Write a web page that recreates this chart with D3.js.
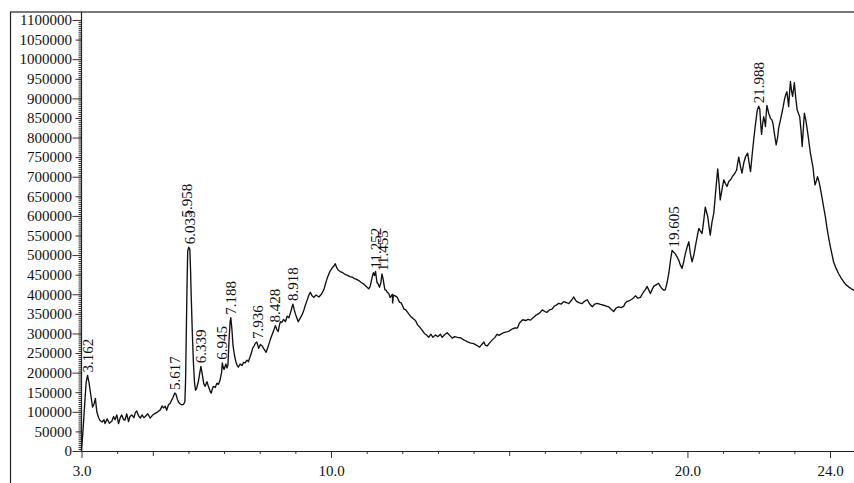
<!DOCTYPE html>
<html>
<head>
<meta charset="UTF-8">
<title>chromatogram</title>
<script src="https://d3js.org/d3.v7.min.js"></script>
<style>
  body { margin: 0; background: #fff; }
  text { font-family: "Liberation Serif", "Times New Roman", serif; fill: #111; }
</style>
</head>
<body>
<svg id="chart" width="854" height="483"></svg>
<script>
// retention time (min)
var rt = [
  3.00, 3.04, 3.09, 3.13, 3.17, 3.21, 3.25, 3.31, 3.35, 3.39, 3.43, 3.48, 3.52, 3.58, 3.63, 3.66, 3.72, 3.78, 3.85, 3.90,
  3.94, 3.99, 4.04, 4.09, 4.13, 4.18, 4.22, 4.27, 4.32, 4.36, 4.41, 4.47, 4.51, 4.55, 4.60, 4.65, 4.70, 4.75, 4.79, 4.86,
  4.93, 5.00, 5.07, 5.14, 5.21, 5.26, 5.30, 5.35, 5.39, 5.44, 5.49, 5.53, 5.56, 5.62, 5.65, 5.69, 5.72, 5.77, 5.81, 5.86,
  5.90, 5.92, 5.94, 5.96, 5.98, 6.01, 6.04, 6.06, 6.08, 6.11, 6.14, 6.17, 6.20, 6.23, 6.28, 6.32, 6.35, 6.38, 6.43, 6.47,
  6.52, 6.55, 6.58, 6.62, 6.64, 6.67, 6.70, 6.75, 6.80, 6.84, 6.89, 6.93, 6.95, 6.98, 7.00, 7.05, 7.08, 7.11, 7.14, 7.17,
  7.19, 7.22, 7.25, 7.29, 7.33, 7.37, 7.40, 7.45, 7.50, 7.55, 7.59, 7.64, 7.68, 7.72, 7.76, 7.80, 7.84, 7.88, 7.92, 7.97,
  8.02, 8.07, 8.12, 8.18, 8.23, 8.30, 8.36, 8.41, 8.44, 8.48, 8.52, 8.55, 8.58, 8.62, 8.67, 8.72, 8.77, 8.82, 8.86, 8.90,
  8.93, 8.97, 9.00, 9.04, 9.08, 9.13, 9.19, 9.24, 9.28, 9.33, 9.38, 9.42, 9.47, 9.52, 9.58, 9.66, 9.73, 9.80, 9.85, 9.89,
  9.94, 9.98, 10.03, 10.08, 10.12, 10.16, 10.20, 10.26, 10.33, 10.41, 10.47, 10.53, 10.59, 10.66, 10.72, 10.78, 10.85, 10.92, 10.99, 11.06,
  11.10, 11.15, 11.19, 11.22, 11.25, 11.29, 11.33, 11.36, 11.40, 11.43, 11.46, 11.51, 11.55, 11.58, 11.62, 11.66, 11.72, 11.73, 11.75, 11.80,
  11.86, 11.92, 11.97, 12.00, 12.05, 12.10, 12.18, 12.24, 12.30, 12.37, 12.43, 12.50, 12.56, 12.62, 12.68, 12.74, 12.80, 12.86, 12.93, 13.00,
  13.07, 13.12, 13.18, 13.26, 13.33, 13.40, 13.47, 13.55, 13.63, 13.70, 13.76, 13.82, 13.90, 14.00, 14.08, 14.17, 14.23, 14.29, 14.33, 14.38,
  14.45, 14.52, 14.60, 14.66, 14.71, 14.78, 14.85, 14.93, 15.00, 15.04, 15.10, 15.17, 15.23, 15.28, 15.32, 15.38, 15.46, 15.53, 15.60, 15.67,
  15.74, 15.78, 15.85, 15.93, 16.00, 16.06, 16.13, 16.20, 16.27, 16.33, 16.39, 16.46, 16.53, 16.60, 16.67, 16.74, 16.81, 16.86, 16.90, 16.97,
  17.04, 17.11, 17.19, 17.26, 17.33, 17.40, 17.47, 17.56, 17.65, 17.72, 17.79, 17.86, 17.93, 18.00, 18.07, 18.14, 18.21, 18.26, 18.31, 18.38,
  18.45, 18.50, 18.54, 18.61, 18.68, 18.73, 18.77, 18.82, 18.87, 18.92, 18.96, 19.00, 19.05, 19.12, 19.19, 19.24, 19.29, 19.34, 19.38, 19.43,
  19.48, 19.53, 19.57, 19.61, 19.66, 19.71, 19.76, 19.80, 19.85, 19.90, 19.94, 19.99, 20.04, 20.08, 20.13, 20.18, 20.22, 20.27, 20.32, 20.36,
  20.41, 20.46, 20.50, 20.54, 20.57, 20.61, 20.64, 20.69, 20.74, 20.79, 20.85, 20.89, 20.92, 20.97, 21.02, 21.07, 21.11, 21.16, 21.21, 21.26,
  21.30, 21.35, 21.38, 21.41, 21.44, 21.49, 21.53, 21.58, 21.63, 21.69, 21.73, 21.77, 21.82, 21.86, 21.91, 21.96, 22.00, 22.03, 22.06, 22.08,
  22.11, 22.14, 22.17, 22.19, 22.21, 22.23, 22.28, 22.33, 22.37, 22.40, 22.44, 22.49, 22.53, 22.56, 22.61, 22.65, 22.69, 22.72, 22.76, 22.79,
  22.82, 22.84, 22.87, 22.89, 22.92, 22.95, 22.98, 23.00, 23.04, 23.08, 23.12, 23.15, 23.19, 23.22, 23.25, 23.28, 23.32, 23.35, 23.40, 23.45,
  23.49, 23.52, 23.55, 23.58, 23.62, 23.65, 23.69, 23.72, 23.77, 23.82, 23.87, 23.91, 23.96, 24.01, 24.06, 24.10, 24.17, 24.24, 24.31, 24.38,
  24.45, 24.52, 24.60, 24.68
];

// detector signal
var intensity = [
  0, 50000, 120000, 175000, 193000, 175000, 150000, 112000, 120000, 134000, 100000, 85000, 78000, 74000, 80000, 70000, 82000, 71000, 76000, 88000,
  80000, 92000, 70000, 86000, 92000, 80000, 79000, 95000, 75000, 88000, 92000, 85000, 98000, 102000, 90000, 84000, 92000, 85000, 88000, 95000,
  84000, 92000, 96000, 100000, 105000, 115000, 110000, 114000, 104000, 118000, 122000, 130000, 135000, 148000, 145000, 132000, 125000, 120000, 118000, 119000,
  125000, 180000, 300000, 420000, 510000, 520000, 515000, 460000, 390000, 300000, 225000, 175000, 155000, 160000, 178000, 200000, 216000, 200000, 172000, 165000,
  177000, 168000, 160000, 150000, 148000, 158000, 165000, 162000, 173000, 170000, 182000, 200000, 225000, 212000, 208000, 222000, 212000, 220000, 285000, 330000,
  340000, 310000, 270000, 245000, 228000, 218000, 214000, 222000, 218000, 226000, 225000, 232000, 228000, 238000, 248000, 262000, 268000, 275000, 278000, 262000,
  272000, 268000, 260000, 252000, 265000, 285000, 300000, 312000, 320000, 310000, 305000, 320000, 330000, 328000, 336000, 330000, 344000, 340000, 352000, 365000,
  375000, 360000, 350000, 340000, 330000, 338000, 348000, 360000, 372000, 385000, 398000, 405000, 396000, 392000, 398000, 393000, 400000, 412000, 428000, 440000,
  452000, 460000, 467000, 472000, 478000, 468000, 462000, 458000, 455000, 450000, 448000, 445000, 444000, 440000, 438000, 435000, 430000, 426000, 420000, 414000,
  420000, 442000, 455000, 448000, 458000, 430000, 425000, 418000, 430000, 452000, 440000, 412000, 410000, 405000, 402000, 392000, 400000, 378000, 398000, 396000,
  392000, 380000, 378000, 372000, 362000, 360000, 350000, 343000, 338000, 333000, 322000, 315000, 308000, 300000, 296000, 290000, 298000, 290000, 296000, 292000,
  298000, 290000, 296000, 302000, 295000, 288000, 292000, 290000, 289000, 285000, 282000, 279000, 276000, 274000, 270000, 265000, 272000, 278000, 270000, 268000,
  276000, 283000, 290000, 298000, 295000, 299000, 302000, 304000, 306000, 309000, 312000, 314000, 314000, 325000, 330000, 335000, 333000, 336000, 334000, 340000,
  346000, 348000, 352000, 360000, 356000, 354000, 360000, 362000, 370000, 373000, 377000, 375000, 381000, 379000, 376000, 384000, 393000, 385000, 381000, 378000,
  376000, 382000, 386000, 375000, 368000, 375000, 377000, 374000, 372000, 370000, 368000, 362000, 356000, 365000, 368000, 366000, 369000, 378000, 382000, 384000,
  388000, 392000, 396000, 390000, 392000, 400000, 406000, 412000, 420000, 410000, 402000, 410000, 420000, 424000, 428000, 420000, 414000, 410000, 412000, 430000,
  455000, 490000, 512000, 508000, 503000, 495000, 486000, 475000, 466000, 485000, 503000, 520000, 534000, 505000, 483000, 500000, 521000, 545000, 568000, 562000,
  555000, 590000, 622000, 608000, 598000, 570000, 551000, 585000, 607000, 660000, 720000, 680000, 641000, 668000, 692000, 682000, 675000, 688000, 692000, 700000,
  705000, 712000, 717000, 735000, 750000, 725000, 709000, 735000, 751000, 760000, 735000, 713000, 760000, 795000, 835000, 870000, 880000, 872000, 830000, 808000,
  835000, 853000, 840000, 828000, 860000, 882000, 862000, 849000, 845000, 836000, 810000, 781000, 800000, 824000, 845000, 862000, 880000, 896000, 910000, 917000,
  895000, 879000, 920000, 943000, 920000, 905000, 925000, 940000, 900000, 870000, 860000, 853000, 815000, 777000, 820000, 862000, 845000, 828000, 795000, 760000,
  740000, 726000, 700000, 679000, 690000, 700000, 688000, 675000, 650000, 623000, 598000, 572000, 545000, 521000, 500000, 483000, 466000, 453000, 442000, 432000,
  424000, 419000, 414000, 410000
];

var peakTimes = [3.162, 5.617, 5.958, 6.033, 6.339, 6.945, 7.188, 7.936, 8.428, 8.918, 11.252, 11.455, 19.605, 21.988];
var peakLabels = ["3.162", "5.617", "5.958", "6.033", "6.339", "6.945", "7.188", "7.936", "8.428", "8.918", "11.252", "11.455", "19.605", "21.988"];

var xTicks = d3.range(3, 25);            // one tick per minute
var xTickLabels = [3.0, 10.0, 20.0, 24.0];
var yMinorTicks = d3.range(0, 1100001, 5000);
var yMidTicks = d3.range(50000, 1100001, 100000);
var yMajorTicks = d3.range(0, 1100001, 100000);

var svg = d3.select("#chart");
var W = 854, H = 483;

var x = d3.scaleLinear().domain([3, 24]).range([81.5, 830]);
var y = d3.scaleLinear().domain([0, 1100000]).range([451, 20]);

// outer frame
svg.append("rect")
    .attr("x", 10.5).attr("y", 12)
    .attr("width", 1000).attr("height", 1000)
    .attr("fill", "none").attr("stroke", "#222").attr("stroke-width", 1.2);

// y axis: minor / mid / major ticks
function yAxis(values, size, labels) {
    var g = svg.append("g")
        .attr("transform", "translate(" + x(3) + ",0)")
        .call(d3.axisLeft(y).tickValues(values).tickSize(size)
            .tickPadding(labels ? 9.5 - size : 0)
            .tickFormat(labels ? d3.format("d") : ""));
    g.select(".domain").remove();
    g.selectAll("line").attr("stroke", "#333");
    g.selectAll("text").style("font-size", "15px");
}
yAxis(yMinorTicks, 3, false);
yAxis(yMidTicks, 6, true);
yAxis(yMajorTicks, 9, true);

// x axis
function xAxis(values, size, labels) {
    var g = svg.append("g")
        .attr("transform", "translate(0," + y(0) + ")")
        .call(d3.axisBottom(x).tickValues(values).tickSize(size)
            .tickPadding(labels ? 14 - size : 0)
            .tickFormat(labels ? d3.format(".1f") : ""));
    g.select(".domain").remove();
    g.selectAll("line").attr("stroke", "#333");
    g.selectAll("text").style("font-size", "15px");
}
xAxis(xTicks.filter(function (d) { return d % 5 != 0 && xTickLabels.indexOf(d) < 0; }), 3, false);
xAxis(xTicks.filter(function (d) { return d % 5 == 0 && d % 10 != 0; }), 5, false);
xAxis(xTickLabels, 7, true);

// axis lines
svg.append("line").attr("x1", x(3)).attr("x2", x(3)).attr("y1", 12).attr("y2", y(0))
    .attr("stroke", "#222").attr("stroke-width", 1.2);
svg.append("line").attr("x1", x(3)).attr("x2", W).attr("y1", y(0) + 0.5).attr("y2", y(0) + 0.5)
    .attr("stroke", "#222").attr("stroke-width", 1.2);

// trace
var pts = d3.zip(rt, intensity);
svg.append("path")
    .datum(pts)
    .attr("fill", "none")
    .attr("stroke", "#111")
    .attr("stroke-width", 1.35)
    .attr("stroke-linejoin", "round")
    .attr("d", d3.line().x(function (d) { return x(d[0]); }).y(function (d) { return y(d[1]); }));

// peak labels, placed above the local apex; stacked when they sit on top of each other
function apex(t) {
    var m = 0;
    pts.forEach(function (p) { if (Math.abs(p[0] - t) <= 0.045 && p[1] > m) m = p[1]; });
    return m;
}
var placed = [];
var order = d3.range(peakTimes.length).reverse();
order.forEach(function (i) {
    var px = x(peakTimes[i]);
    var py = y(apex(peakTimes[i])) - 3;
    var txt = svg.append("text")
        .attr("text-anchor", "start")
        .attr("dy", "0.35em")
        .style("font-size", "15px")
        .text(peakLabels[i]);
    var len = txt.node().getComputedTextLength();
    placed.forEach(function (p) {
        if (Math.abs(p.x - px) < 5) py = Math.min(py, p.top + 7);
    });
    txt.attr("transform", "translate(" + px + "," + py + ") rotate(-90)");
    placed.push({x: px, top: py - len});
});
</script>
</body>
</html>
